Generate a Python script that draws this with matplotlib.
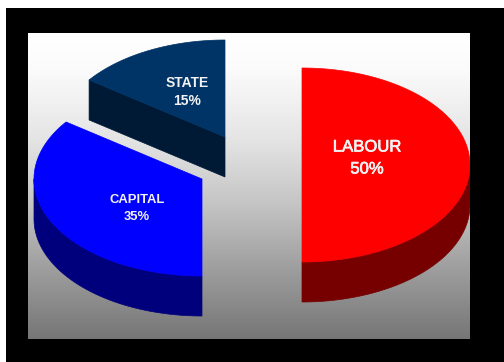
#!/usr/bin/env python3
import matplotlib
matplotlib.use("Agg")
import matplotlib.pyplot as plt
import matplotlib.patheffects as pe
from matplotlib.colors import LinearSegmentedColormap
import numpy as np

plt.rcParams["font.family"] = ["Liberation Sans", "DejaVu Sans"]

# ---------------------------------------------------------
# DATA
# ---------------------------------------------------------

labels = ["LABOUR", "CAPITAL", "STATE"]
shares = [50, 35, 15]

# ---------------------------------------------------------
# STYLE
# ---------------------------------------------------------

top_colors = ["#ff0000", "#0000ff", "#003366"]
side_colors = ["#760000", "#00007c", "#001a36"]

# exploded slice centres, in pixels
centres = [(302, 165), (202, 179), (225, 137)]
label_pos = [(367, 147), (137, 200), (187, 83)]
pct_pos = [(367, 169), (137, 217), (187, 101)]
label_size = [12.0, 9.4, 10.0]
label_weight = ["normal", "bold", "bold"]
label_stroke = [0.5, 0, 0]

rx, ry = 168, 97
depth = 40


def rim(cx, cy, start, stop):
    # clockwise from north, squashed into an ellipse
    t = np.radians(np.linspace(start, stop, 200))
    return cx + rx * np.sin(t), cy - ry * np.cos(t)


# ---------------------------------------------------------
# PLOT
# ---------------------------------------------------------

fig = plt.figure(figsize=(5.04, 3.62), dpi=100, facecolor="white")
ax = fig.add_axes([0, 0, 1, 1])
ax.axis("off")

# black frame with a grey gradient panel inside
ax.fill([6, 504, 504, 6], [8, 8, 362, 362], color="black", lw=0, zorder=0)

grad_cmap = LinearSegmentedColormap.from_list(
    "panel",
    [(0.0, "#ffffff"), (0.12, "#fbfbfb"), (0.35, "#e4e4e4"),
     (0.55, "#c6c6c6"), (0.75, "#a2a2a2"), (1.0, "#767676")],
)
ax.imshow(
    np.linspace(0, 1, 256).reshape(-1, 1),
    extent=[28, 470, 339, 33],
    cmap=grad_cmap,
    aspect="auto",
    zorder=1,
)
ax.set_xlim(0, 504)
ax.set_ylim(362, 0)

angle = 0
for i, share in enumerate(shares):
    start = angle
    stop = angle + share * 3.6
    angle = stop
    cx, cy = centres[i]
    x, y = rim(cx, cy, start, stop)

    # outer wall, only the part on the near side of the ellipse
    near_start, near_stop = max(start, 90), min(stop, 270)
    if near_stop > near_start:
        xs, ys = rim(cx, cy, near_start, near_stop)
        ax.fill(
            np.r_[xs, xs[::-1]],
            np.r_[ys, ys[::-1] + depth],
            color=side_colors[i],
            lw=0.5,
            zorder=2,
        )

    # cut face of the slice when it looks towards the viewer
    if stop == 360:
        ax.fill(
            [x[0], cx, cx, x[0]],
            [y[0], cy, cy + depth, y[0] + depth],
            color=side_colors[i],
            lw=0.5,
            zorder=2,
        )

    ax.fill(np.r_[cx, x], np.r_[cy, y], color=top_colors[i], lw=0.5, zorder=3)

    for pos, txt in ((label_pos[i], labels[i]), (pct_pos[i], f"{share}%")):
        t = ax.text(pos[0], pos[1], txt, color="#f2f2f2",
                    ha="center", va="center", fontsize=label_size[i],
                    fontweight=label_weight[i], zorder=4)
        if label_stroke[i]:
            t.set_path_effects([pe.withStroke(linewidth=label_stroke[i],
                                              foreground="#f2f2f2")])

# keep the red slice inside the panel edge
ax.fill([470, 504, 504, 470], [8, 8, 362, 362], color="black", lw=0, zorder=5)

fig.savefig("out.png", dpi=100)
plt.close(fig)
